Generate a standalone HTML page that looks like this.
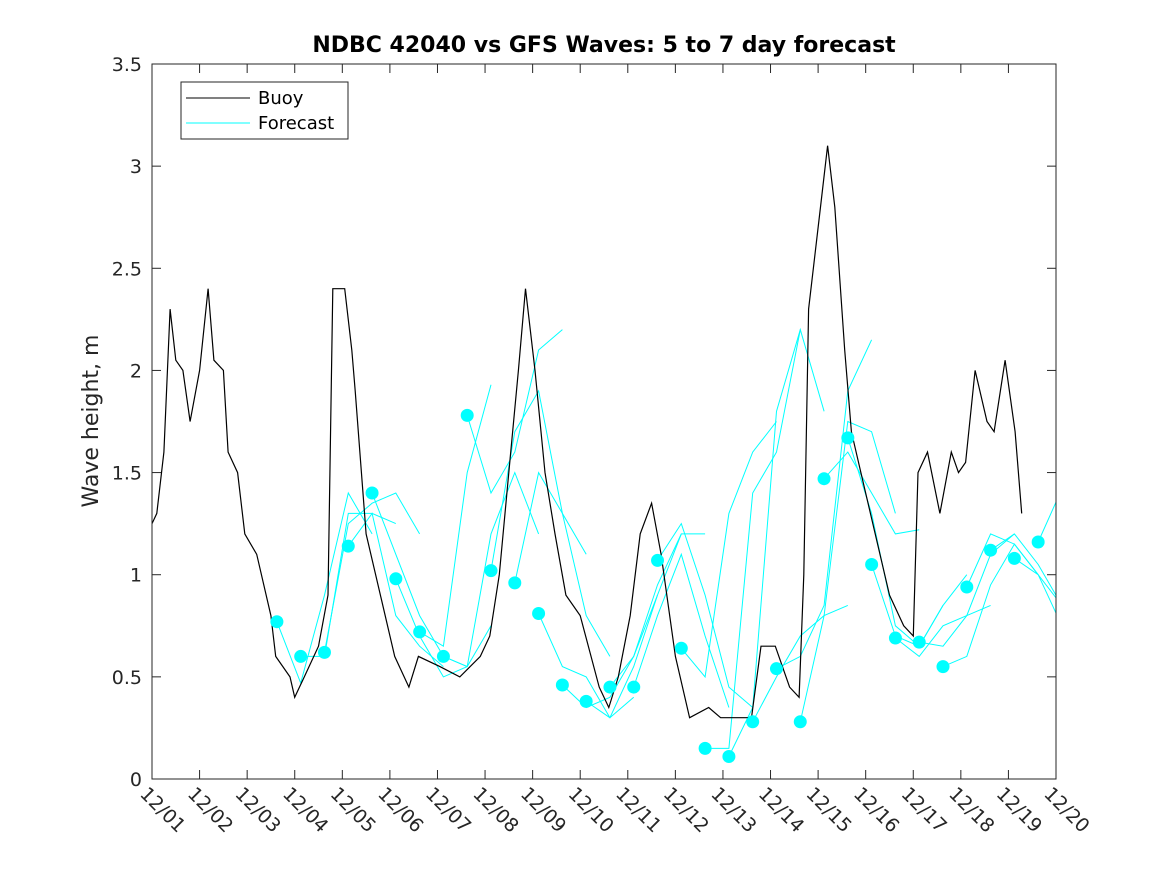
<!DOCTYPE html>
<html><head><meta charset="utf-8"><style>
body{margin:0;background:#fff}
svg{display:block;font-family:"DejaVu Sans","Liberation Sans",sans-serif}
</style></head><body>
<svg id="c" width="1167" height="875" xmlns="http://www.w3.org/2000/svg"></svg>
<script>
const xTickLabels=["12/01","12/02","12/03","12/04","12/05","12/06","12/07","12/08","12/09","12/10","12/11","12/12","12/13","12/14","12/15","12/16","12/17","12/18","12/19","12/20"];
const yTicks=[0,0.5,1,1.5,2,2.5,3,3.5];
const buoyDays=[0,0.1,0.25,0.38,0.5,0.65,0.8,1.0,1.18,1.3,1.5,1.6,1.8,1.95,2.2,2.5,2.6,2.9,3.0,3.2,3.5,3.7,3.8,4.05,4.2,4.27,4.5,4.8,5.1,5.4,5.6,6.05,6.47,6.9,7.1,7.3,7.5,7.7,7.85,8.05,8.26,8.47,8.7,9.0,9.4,9.6,9.8,10.05,10.26,10.5,10.7,11.0,11.3,11.7,11.95,12.35,12.6,12.8,13.1,13.4,13.6,13.7,13.8,14.05,14.2,14.35,14.56,14.7,14.9,15.2,15.5,15.8,16.0,16.1,16.3,16.56,16.8,16.95,17.1,17.3,17.55,17.7,17.93,18.14,18.28];
const buoyVals=[1.25,1.3,1.6,2.3,2.05,2.0,1.75,2.0,2.4,2.05,2.0,1.6,1.5,1.2,1.1,0.8,0.6,0.5,0.4,0.5,0.65,0.9,2.4,2.4,2.1,1.9,1.2,0.9,0.6,0.45,0.6,0.55,0.5,0.6,0.7,1.0,1.5,2.0,2.4,2.0,1.5,1.2,0.9,0.8,0.45,0.35,0.5,0.8,1.2,1.35,1.1,0.6,0.3,0.35,0.3,0.3,0.3,0.65,0.65,0.45,0.4,1.0,2.3,2.8,3.1,2.8,2.1,1.7,1.5,1.2,0.9,0.75,0.7,1.5,1.6,1.3,1.6,1.5,1.55,2.0,1.75,1.7,2.05,1.7,1.3];
const dotStart=2.625, dotStep=0.5;
const dotVals=[0.77,0.6,0.62,1.14,1.4,0.98,0.72,0.6,1.78,1.02,0.96,0.81,0.46,0.38,0.45,0.45,1.07,0.64,0.15,0.11,0.28,0.54,0.28,1.47,1.67,1.05,0.69,0.67,0.55,0.94,1.12,1.08,1.16];
const fcRuns=[
[0.77,0.47,0.9,1.4,1.2],[0.6,0.6,1.3,1.3,1.25],[0.62,1.25,1.35,1.4,1.2],[1.14,1.3,0.8,0.65,0.55],
[1.4,1.1,0.8,0.6,0.55],[0.98,0.7,0.5,0.55,0.75],[0.72,0.65,1.5,1.93],[0.6,0.55,1.2,1.5,1.2],
[1.78,1.4,1.6,2.1,2.2],[1.02,1.7,1.9,1.3,1.1],[0.96,1.5,1.3,0.8,0.6],[0.81,0.55,0.5,0.3,0.4],
[0.46,0.35,0.4,0.6,0.9],[0.38,0.3,0.55,0.9,1.2],[0.45,0.6,0.95,1.2,1.2],[0.45,0.8,1.1,0.7,0.35],
[1.07,1.25,0.9,0.45,0.35],[0.64,0.5,1.3,1.6,1.75],[0.15,0.15,1.4,1.6,2.2],[0.11,0.35,1.8,2.2,1.8],
[0.28,0.5,0.7,0.8,0.85],[0.54,0.6,0.85,1.9,2.15],[0.28,0.8,1.75,1.7,1.3],[1.47,1.6,1.4,1.2,1.22],
[1.67,1.3,0.75,0.65,0.85],[1.05,0.7,0.65,0.85,1.0],[0.69,0.6,0.75,0.8,0.85],[0.67,0.65,0.8,1.1,1.2],
[0.55,0.6,0.95,1.15,1.0],[0.94,1.2,1.15,1.0,0.75],[1.12,1.2,1.05,0.85,0.75],[1.08,1.0,0.85,0.62],[1.16,1.42,0.9]];

const L=152,R=1056,T=64,B=779;
const xs=d=>L+d*(R-L)/19, ys=v=>B-v*(B-T)/3.5;
const NS="http://www.w3.org/2000/svg", svg=document.getElementById('c');
function mk(tag,attrs,parent){const e=document.createElementNS(NS,tag);for(const k in attrs)e.setAttribute(k,attrs[k]);(parent||svg).appendChild(e);return e;}
const defs=mk('defs',{});const cp=mk('clipPath',{id:'clip'},defs);mk('rect',{x:L,y:T,width:R-L,height:B-T},cp);
const bg=mk('rect',{x:L,y:T,width:R-L,height:B-T,fill:'#fff'});


const g=mk('g',{'clip-path':'url(#clip)'});


fcRuns.forEach((run,k)=>{
  const d0=dotStart+k*dotStep;
  const pts=run.map((v,i)=>xs(d0+i*0.5).toFixed(1)+','+ys(v).toFixed(1)).join(' ');
  const pl=mk('polyline',{points:pts,fill:'none',stroke:'#00ffff','stroke-width':1},g);
  
  
});
const bp=buoyDays.map((d,i)=>xs(d).toFixed(1)+','+ys(buoyVals[i]).toFixed(1)).join(' ');
const bl=mk('polyline',{points:bp,fill:'none',stroke:'#000','stroke-width':1.2},g);


dotVals.forEach((v,k)=>{
  const c=mk('circle',{cx:xs(dotStart+k*dotStep),cy:ys(v),r:6.5,fill:'#00ffff'},g);
  
  
});
const ax=mk('rect',{x:L,y:T,width:R-L,height:B-T,fill:'none',stroke:'#262626','stroke-width':1});


xTickLabels.forEach((t,i)=>{
  const x=xs(i);
  mk('line',{x1:x,y1:B,x2:x,y2:B-9,stroke:'#262626'});
  mk('line',{x1:x,y1:T,x2:x,y2:T+9,stroke:'#262626'});
  const tx=mk('text',{x:x-13,y:B+16,'font-size':19,fill:'#262626',transform:`rotate(45 ${x-13} ${B+16})`});
  tx.textContent=t;
  
  
});
yTicks.forEach(v=>{
  const y=ys(v);
  mk('line',{x1:L,y1:y,x2:L+9,y2:y,stroke:'#262626'});
  mk('line',{x1:R,y1:y,x2:R-9,y2:y,stroke:'#262626'});
  const tx=mk('text',{x:L-10,y:y+7,'font-size':19,fill:'#262626','text-anchor':'end'});
  tx.textContent=String(v);
  
  
});
const title=mk('text',{x:604,y:52,'font-size':22,'font-weight':'bold','text-anchor':'middle',fill:'#000'});
title.textContent='NDBC 42040 vs GFS Waves: 5 to 7 day forecast';


const yl=mk('text',{x:98,y:421,'font-size':22,'text-anchor':'middle',fill:'#262626',transform:'rotate(-90 98 421)'});
yl.textContent='Wave height, m';


const lg=mk('g',{});


mk('rect',{x:181,y:82,width:167,height:57,fill:'#fff',stroke:'#262626'},lg);
mk('line',{x1:186,y1:98,x2:250,y2:98,stroke:'#000'},lg);
mk('line',{x1:186,y1:123,x2:250,y2:123,stroke:'#00ffff'},lg);
const t1=mk('text',{x:258,y:104,'font-size':18,fill:'#000'},lg);t1.textContent='Buoy';


const t2=mk('text',{x:258,y:129,'font-size':18,fill:'#000'},lg);t2.textContent='Forecast';


</script>
</body></html>
